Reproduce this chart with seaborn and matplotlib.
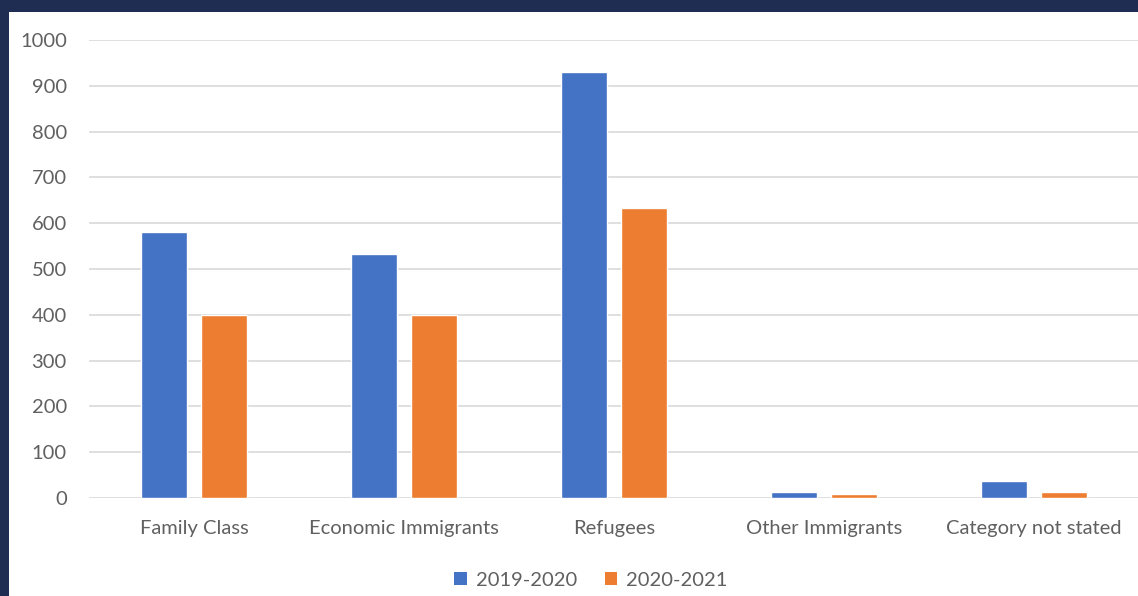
import matplotlib
matplotlib.use("Agg")
import matplotlib.pyplot as plt
from matplotlib.patches import Rectangle, Patch
import seaborn as sns
import pandas as pd

categories = ["Family Class", "Economic Immigrants", "Refugees",
              "Other Immigrants", "Category not stated"]
years = ["2019-2020", "2020-2021"]
values_2019_2020 = [580, 533, 930, 13, 38]
values_2020_2021 = [400, 400, 633, 8, 13]
y_ticks = [0, 100, 200, 300, 400, 500, 600, 700, 800, 900, 1000]
colors = ["#4472C4", "#ED7D31"]

df = pd.DataFrame({
    "category": categories * 2,
    "period": [years[0]] * len(categories) + [years[1]] * len(categories),
    "value": values_2019_2020 + values_2020_2021,
})

sns.set_theme(style="white")
plt.rcParams["font.family"] = ["Lato", "DejaVu Sans"]

W, H = 1138, 596
fig = plt.figure(figsize=(W / 100, H / 100), dpi=100)
fig.patch.set_facecolor("#1f2d52")

# white chart panel sitting on the dark slide
fig.patches.append(Rectangle((9 / W, 0), 1 - 9 / W, 1 - 12 / H,
                             transform=fig.transFigure, facecolor="white",
                             edgecolor="none", zorder=-10))

ax = fig.add_axes([89 / W, 1 - 498 / H, (1139 - 89) / W, (498 - 40) / H])
ax.set_facecolor("none")
ax.set_zorder(5)

sns.barplot(data=df, x="category", y="value", hue="period",
            palette=colors, width=0.571, gap=0.233, ax=ax,
            legend=False, errorbar=None, saturation=1)

ax.set_ylim(0, 1000)
ax.set_xlim(-0.5, len(categories) - 0.5)
ax.set_yticks(y_ticks)
ax.set_xlabel("")
ax.set_ylabel("")
ax.yaxis.grid(True, color="#d9d9d9", linewidth=1.2)
ax.set_axisbelow(True)
for s in ax.spines.values():
    s.set_visible(False)
ax.tick_params(axis="both", length=0, colors="#606060", labelsize=14.5)
ax.tick_params(axis="x", pad=16)
ax.tick_params(axis="y", pad=16)

handles = [Patch(facecolor=c, edgecolor="none") for c in colors]
fig.legend(handles, years, loc="center", bbox_to_anchor=(591 / W, 1 - 580 / H),
           ncol=2, frameon=False, fontsize=14.5, handlelength=0.6,
           handleheight=0.6, handletextpad=0.45, columnspacing=1.4,
           labelcolor="#606060")

fig.savefig("out.png", dpi=100, facecolor=fig.get_facecolor())
